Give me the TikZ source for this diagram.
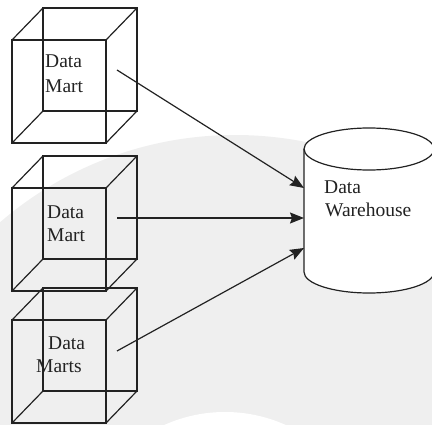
\documentclass[tikz,border=0pt]{standalone}
\usepackage{fontspec}
\setmainfont{Liberation Serif}
\usetikzlibrary{arrows.meta}
\definecolor{ink}{HTML}{222222}
\definecolor{haze}{HTML}{EFEFEF}
\tikzset{
  edge/.style={draw=ink, line width=1.2pt, line join=miter},
  label/.style={anchor=base west, inner sep=0pt, text=ink,
    font=\fontsize{19.5}{24}\selectfont},
  feed/.style={draw=ink, line width=1.2pt,
    -{Stealth[length=14pt, width=11pt, inset=2pt]}},
}
% wire-frame cube: front face at (#1,#2), 94 x 103, back face shifted (+31,-32)
\newcommand{\wirecube}[2]{%
  \draw[edge] (#1,#2) rectangle ++(94,103);
  \draw[edge] (#1+31,#2-32) rectangle ++(94,103);
  \draw[edge] (#1,#2) -- ++(31,-32);
  \draw[edge] (#1+94,#2) -- ++(31,-32);
  \draw[edge] (#1,#2+103) -- ++(31,-32);
  \draw[edge] (#1+94,#2+103) -- ++(31,-32);
}
\begin{document}
\begin{tikzpicture}[x=1pt,y=-1pt]
\useasboundingbox (0,0) rectangle (432,425);
\clip (0,0) rectangle (432,425);

% faint backdrop
\fill[haze] (235,495) circle[radius=360];
\fill[white] (225,560) circle[radius=148];

% data marts
\wirecube{12}{40}
\wirecube{12}{188}
\wirecube{12}{320}

\node[label] (m1a) at (45,68) {Data};
\node[label] (m1b) at (45,93) {Mart};
\node[label] (m2a) at (47,219) {Data};
\node[label] (m2b) at (47,242) {Mart};
\node[label] (m3a) at (48,350) {Data};
\node[label] (m3b) at (36,373) {Marts};

% data warehouse cylinder, built from Bezier quarter arcs
% (centre x 369, half width 65; top rim centre y 149, bottom rim centre y 272, half height 21)
\coordinate (cl) at (304,149);
\coordinate (cr) at (434,149);
\coordinate (bl) at (304,272);
\coordinate (br) at (434,272);
\fill[white] (cl) -- (bl)
  .. controls (304,283.6) and (333.1,293) .. (369,293)
  .. controls (404.9,293) and (434,283.6) .. (br) -- (cr)
  .. controls (434,137.4) and (404.9,128) .. (369,128)
  .. controls (333.1,128) and (304,137.4) .. (cl) -- cycle;
% top rim
\draw[edge] (cl)
  .. controls (304,137.4) and (333.1,128) .. (369,128)
  .. controls (404.9,128) and (434,137.4) .. (cr)
  .. controls (434,160.6) and (404.9,170) .. (369,170)
  .. controls (333.1,170) and (304,160.6) .. (cl) -- cycle;
% sides and bottom rim
\draw[edge] (cl) -- (bl)
  .. controls (304,283.6) and (333.1,293) .. (369,293)
  .. controls (404.9,293) and (434,283.6) .. (br) -- (cr);

\node[label] (wa) at (324,194) {Data};
\node[label] (wb) at (325,217) {Warehouse};

% arrow ends
\coordinate (s1) at (117,70);
\coordinate (s2) at (117,218);
\coordinate (s3) at (117,351);
\coordinate (t1) at (304,188);
\coordinate (t2) at (304,218);
\coordinate (t3) at (304,248);

\draw[feed] (s1) -- (t1);
\draw[feed] (s2) -- (t2);
\draw[feed] (s3) -- (t3);
\end{tikzpicture}
\end{document}
